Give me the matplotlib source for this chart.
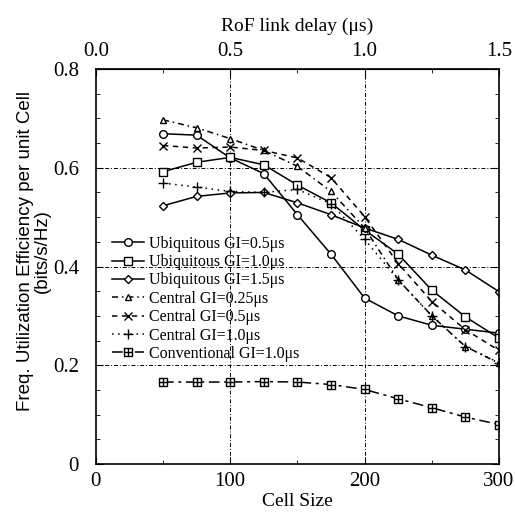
import matplotlib
matplotlib.use("Agg")
import matplotlib.pyplot as plt
from matplotlib.path import Path
from matplotlib.ticker import MultipleLocator

cell_size = [50, 75, 100, 125, 150, 175, 200, 225, 250, 275, 300]

ubi_05 = [0.669, 0.666, 0.620, 0.588, 0.505, 0.425, 0.336, 0.300, 0.281, 0.273, 0.265]
ubi_10 = [0.592, 0.611, 0.621, 0.606, 0.565, 0.529, 0.474, 0.425, 0.352, 0.298, 0.255]
ubi_15 = [0.523, 0.542, 0.549, 0.550, 0.529, 0.505, 0.478, 0.455, 0.423, 0.393, 0.349]
cen_025 = [0.697, 0.681, 0.659, 0.635, 0.603, 0.552, 0.478, 0.373, 0.300, 0.238, 0.204]
cen_05 = [0.645, 0.640, 0.642, 0.635, 0.620, 0.580, 0.501, 0.406, 0.329, 0.272, 0.230]
cen_10 = [0.569, 0.561, 0.552, 0.550, 0.556, 0.527, 0.455, 0.373, 0.300, 0.238, 0.205]
conv_10 = [0.166, 0.166, 0.166, 0.167, 0.166, 0.161, 0.151, 0.132, 0.114, 0.095, 0.080]

labels = ["Ubiquitous GI=0.5\u03bcs", "Ubiquitous GI=1.0\u03bcs", "Ubiquitous GI=1.5\u03bcs",
          "Central GI=0.25\u03bcs", "Central GI=0.5\u03bcs", "Central GI=1.0\u03bcs",
          "Conventional GI=1.0\u03bcs"]

x_ticks = [0, 100, 200, 300]
y_ticks = [0, 0.2, 0.4, 0.6, 0.8]
y_ticklabels = ["0", "0.2", "0.4", "0.6", "0.8"]
top_ticks = [0.0, 0.5, 1.0, 1.5]

serif = "Liberation Serif"

# square with a cross inside, like the conventional marker
boxplus = Path([(-1, -1), (1, -1), (1, 1), (-1, 1), (-1, -1), (-1, 0), (1, 0), (0, -1), (0, 1)],
               [Path.MOVETO, Path.LINETO, Path.LINETO, Path.LINETO, Path.CLOSEPOLY,
                Path.MOVETO, Path.LINETO, Path.MOVETO, Path.LINETO])


def main():
    fig = plt.figure(figsize=(5.15, 5.15), dpi=100)
    ax = fig.add_axes([0.186, 0.099, 0.783, 0.767])

    kw = dict(color="black", lw=1.1, mfc="white", mec="black", mew=1.0)
    ax.plot(cell_size, ubi_05, "-", marker="o", ms=5.5, label=labels[0], **kw)
    ax.plot(cell_size, ubi_10, "-", marker="s", ms=5.5, label=labels[1], **kw)
    ax.plot(cell_size, ubi_15, "-", marker="D", ms=4, label=labels[2], **kw)
    ax.plot(cell_size, cen_025, ls=(0, (4, 2.5, 1, 2.5)), marker="^", ms=5, label=labels[3], **kw)
    ax.plot(cell_size, cen_05, ls=(0, (3.5, 3)), marker="x", ms=6, label=labels[4], **kw)
    ax.plot(cell_size, cen_10, ls=(0, (1, 3)), marker="+", ms=7, label=labels[5], **kw)
    ax.plot(cell_size, conv_10, ls=(0, (7, 3, 2, 3)), marker=boxplus, ms=5.5, label=labels[6], **kw)

    ax.set_xlim(0, 300)
    ax.set_ylim(0, 0.8)
    ax.set_xticks(x_ticks)
    ax.set_xticklabels([str(v) for v in x_ticks])
    ax.xaxis.set_minor_locator(MultipleLocator(50))
    ax.set_yticks(y_ticks)
    ax.set_yticklabels(y_ticklabels)
    ax.yaxis.set_minor_locator(MultipleLocator(0.05))

    ax.tick_params(which="both", direction="in", right=True, labelsize=15)
    ax.tick_params(axis="x", pad=6)
    ax.tick_params(axis="y", pad=12)
    ax.tick_params(which="major", length=5)
    ax.tick_params(which="minor", length=3)
    for t in ax.get_xticklabels() + ax.get_yticklabels():
        t.set_fontfamily(serif)

    # grid only at the labelled ticks inside the frame
    for v in x_ticks[1:-1]:
        ax.axvline(v, color="black", lw=0.7, ls=(0, (4, 2, 1, 2)), zorder=0.5)
    for v in y_ticks[1:-1]:
        ax.axhline(v, color="black", lw=0.7, ls=(0, (4, 2, 1, 2)), zorder=0.5)
    for s in ax.spines.values():
        s.set_linewidth(1.2)

    top = ax.secondary_xaxis("top", functions=(lambda x: x / 200.0, lambda x: x * 200.0))
    top.set_xticks(top_ticks)
    top.set_xticklabels(["%.1f" % v for v in top_ticks], fontfamily=serif)
    top.xaxis.set_minor_locator(MultipleLocator(0.25))
    top.tick_params(which="both", direction="in", labelsize=15, pad=6)
    top.tick_params(which="major", length=5)
    top.tick_params(which="minor", length=3)
    top.set_xlabel("RoF link delay (\u03bcs)", fontsize=14, fontfamily=serif, labelpad=8)

    ax.set_xlabel("Cell Size", fontsize=14, fontfamily=serif, labelpad=1)
    ax.set_ylabel("Freq. Utilization Efficiency per unit Cell\n(bits/s/Hz)",
                  fontsize=13.5, fontfamily="Liberation Sans", linespacing=1.0)
    ax.yaxis.set_label_coords(-0.112, 0.54)

    ax.legend(loc="upper left", bbox_to_anchor=(0.04, 0.578), frameon=False,
              prop={"family": serif, "size": 11.5}, numpoints=1, handlelength=2.0,
              handletextpad=0.3, labelspacing=0.15, borderpad=0, borderaxespad=0)

    fig.savefig("out.png", dpi=100)


if __name__ == '__main__':
    main()
